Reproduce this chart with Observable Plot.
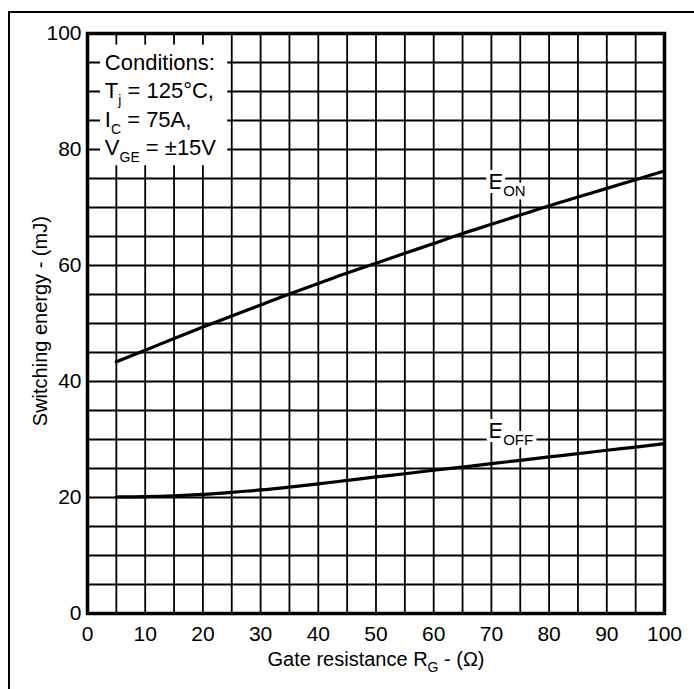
<!DOCTYPE html>
<html><head><meta charset="utf-8">
<script src="https://cdn.jsdelivr.net/npm/d3@7"></script>
<script src="https://cdn.jsdelivr.net/npm/@observablehq/plot@0.6"></script>
<style>
body{margin:0;background:#fff;}
#wrap{position:relative;width:694px;height:689px;overflow:hidden;}
#border{position:absolute;left:8px;top:11px;width:720px;height:720px;border-top:2px solid #000;border-left:2px solid #000;pointer-events:none;z-index:2;}
svg{display:block;}
</style></head><body><div id="wrap"><div id="border"></div></div>
<script>
// Data
const rg   = [5,10,15,20,25,30,35,40,45,50,55,60,65,70,75,80,85,90,95,100];
const eOn  = [43.4,45.4,47.4,49.4,51.3,53.2,55.1,56.9,58.7,60.4,62.1,63.8,65.5,67.1,68.7,70.3,71.8,73.3,74.8,76.3];
const eOff = [20.1,20.15,20.3,20.55,20.9,21.3,21.8,22.35,22.95,23.55,24.1,24.7,25.25,25.85,26.4,27.0,27.55,28.15,28.7,29.3];
const xTicks = [0,10,20,30,40,50,60,70,80,90,100];
const yTicks = [0,20,40,60,80,100];
const gridLines = [5,10,15,20,25,30,35,40,45,50,55,60,65,70,75,80,85,90,95];
const condLines = [["Conditions:"],["T","j"," = 125°C,"],["I","C"," = 75A,"],["V","GE"," = ±15V"]];
const curveLabels = [["E","ON"],["E","OFF"]];
const xLabel = ["Gate resistance R","G"," - (Ω)"];
const yLabel = ["Switching energy - (mJ)"];

const rows = rg.map((r,i)=>({rg:r, eon:eOn[i], eoff:eOff[i]}));
const join = d => d.join("");

const chart = Plot.plot({
  width: 694, height: 689,
  marginLeft: 87, marginRight: 30, marginTop: 33, marginBottom: 76,
  style: {fontFamily: "'Liberation Sans', Arial, Helvetica, sans-serif", fontSize: "21px", color: "#000", background: "#fff", overflow: "visible"},
  x: {domain: [0,100], ticks: xTicks, tickSize: 0, tickPadding: 13, label: null},
  y: {domain: [0,100], ticks: yTicks, tickSize: 0, tickPadding: 6, label: null},
  marks: [
    Plot.ruleX(gridLines, {stroke: "#000", strokeWidth: 1.8}),
    Plot.ruleY(gridLines, {stroke: "#000", strokeWidth: 1.8}),
    Plot.rect([0], {x1: 2.25, x2: 24.3, y1: 77.2, y2: 98, fill: "#fff"}),
    Plot.line(rows, {x: "rg", y: "eon", stroke: "#000", strokeWidth: 3.2, curve: "monotone-x"}),
    Plot.line(rows, {x: "rg", y: "eoff", stroke: "#000", strokeWidth: 3.2, curve: "monotone-x"}),
    Plot.frame({stroke: "#000", strokeWidth: 3.5}),
    Plot.text(condLines, {x: 3.0, y: (d,i) => 94.9 - i*4.88, text: join, textAnchor: "start", fontSize: 22, fill: "#000"}),
    Plot.text(curveLabels, {x: 69.5, y: (d,i) => i === 0 ? 74.4 : 31.5, text: join, textAnchor: "start", fontSize: 22, fill: "#000", stroke: "#fff", strokeWidth: 8}),
    Plot.text([xLabel], {x: 50, y: 0, dy: 45.6, text: join, fontSize: 20, fill: "#000"}),
    Plot.text(yLabel, {x: 0, y: 50.4, dx: -47, rotate: -90, text: d => d, fontSize: 20, fill: "#000"})
  ]
});

function richify(svg, parts, subSize, subDy) {
  const full = parts.join("");
  d3.select(svg).selectAll("text").filter(function() { return this.textContent === full; }).each(function() {
    const t = d3.select(this);
    t.text(null);
    t.append("tspan").text(parts[0]);
    if (parts[1]) {
      t.append("tspan").attr("font-size", subSize).attr("dy", subDy).text(parts[1]);
      if (parts[2]) t.append("tspan").attr("dy", -subDy).text(parts[2]);
    }
  });
}
condLines.forEach(p => richify(chart, p, 14, 7));
curveLabels.forEach(p => richify(chart, p, 15, 7));
richify(chart, xLabel, 14, 6);

document.getElementById("wrap").prepend(chart);
</script>
</body></html>
